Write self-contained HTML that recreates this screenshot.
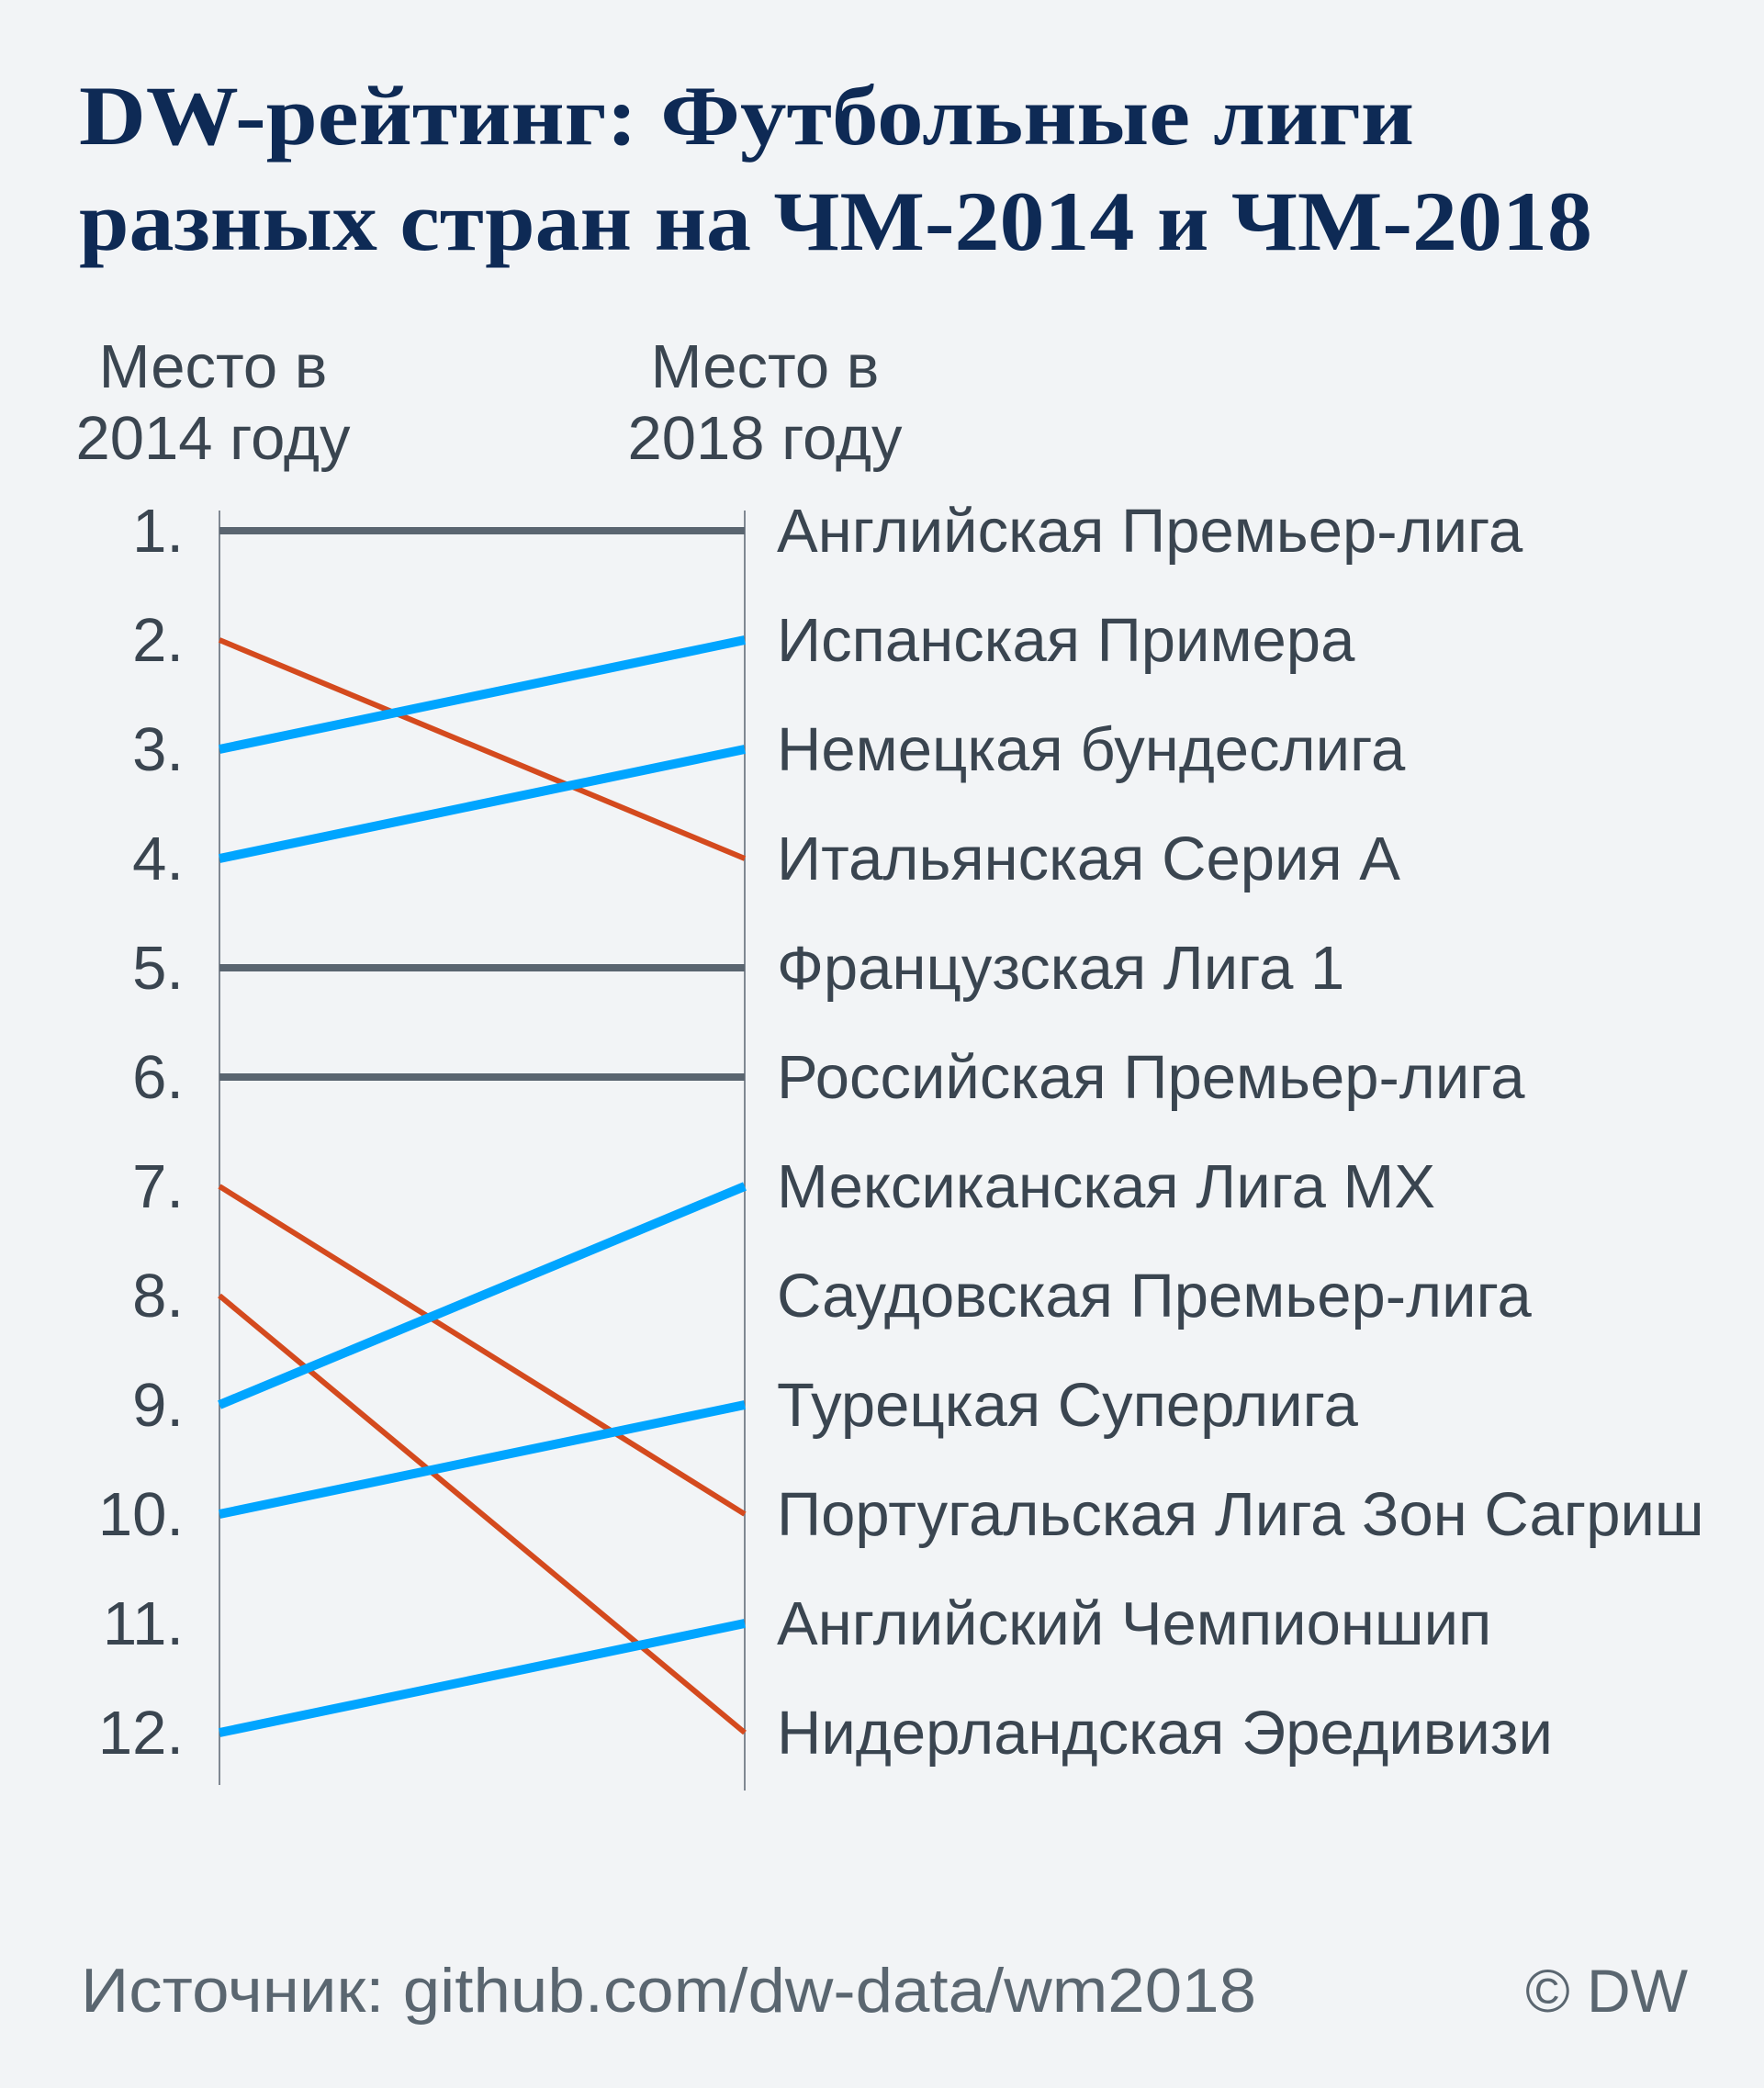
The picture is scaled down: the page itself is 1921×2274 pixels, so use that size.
<!DOCTYPE html>
<html><head><meta charset="utf-8"><style>
html,body{margin:0;padding:0;background:#f2f4f6;}
svg{display:block;}
</style></head><body>
<svg width="1921" height="2274" viewBox="0 0 1921 2274" xmlns="http://www.w3.org/2000/svg">
<rect width="1921" height="2274" fill="#f2f4f6"/>
<g font-family="'Liberation Serif', serif" font-weight="bold" fill="#0e2a55" font-size="92">
<text x="86" y="157" textLength="1454" lengthAdjust="spacingAndGlyphs">DW-рейтинг: Футбольные лиги</text>
<text x="86" y="272" textLength="1648" lengthAdjust="spacingAndGlyphs">разных стран на ЧМ-2014 и ЧМ-2018</text>
</g>
<g font-family="'Liberation Sans', sans-serif" fill="#3a4550" font-size="67" text-anchor="middle">
<text x="232" y="422">Место в</text>
<text x="232" y="500">2014 году</text>
<text x="833" y="422">Место в</text>
<text x="833" y="500">2018 году</text>
</g>
<line x1="239" y1="556" x2="239" y2="1944" stroke="#5a6570" stroke-width="1.5"/>
<line x1="811" y1="556" x2="811" y2="1950" stroke="#5a6570" stroke-width="1.5"/>
<g id="ranks" font-family="'Liberation Sans', sans-serif" fill="#3a4550" font-size="67"></g>
<g id="lines"></g>
<text x="88" y="2191" textLength="1280" lengthAdjust="spacingAndGlyphs" font-family="'Liberation Sans', sans-serif" font-size="68" fill="#5a6670">Источник: github.com/dw-data/wm2018</text>
<text x="1838" y="2191" text-anchor="end" font-family="'Liberation Sans', sans-serif" font-size="66" fill="#5a6670">© DW</text>
</svg>
<script>
const leagues = ["Английская Премьер-лига","Испанская Примера","Немецкая бундеслига","Итальянская Серия А","Французская Лига 1","Российская Премьер-лига","Мексиканская Лига MX","Саудовская Премьер-лига","Турецкая Суперлига","Португальская Лига Зон Сагриш","Английский Чемпионшип","Нидерландская Эредивизи"];
const rankLabels = ["1.","2.","3.","4.","5.","6.","7.","8.","9.","10.","11.","12."];
const from2014 = [1,2,3,4,5,6,7,8,9,10,12];
const to2018 =   [1,4,2,3,5,6,10,12,7,9,11];
const NS="http://www.w3.org/2000/svg";
const y = r => 578 + (r-1)*119;
const xL = 239, xR = 811;
const ranks = document.getElementById('ranks');
rankLabels.forEach((t,i)=>{
  const e=document.createElementNS(NS,'text');
  e.setAttribute('x',200);e.setAttribute('y',y(i+1)+23);e.setAttribute('text-anchor','end');
  e.textContent=t;
  
  
  ranks.appendChild(e);
});
leagues.forEach((t,i)=>{
  const e=document.createElementNS(NS,'text');
  e.setAttribute('x',846);e.setAttribute('y',y(i+1)+23);
  e.textContent=t;
  
  
  ranks.appendChild(e);
});
const lines=document.getElementById('lines');
from2014.forEach((a,i)=>{
  const b=to2018[i];
  let c='#5a6570',w=8;
  if(b<a){c='#00a5ff';w=10;} else if(b>a){c='#d44a1e';w=6;}
  const l=document.createElementNS(NS,'line');
  l.setAttribute('x1',xL);l.setAttribute('y1',y(a));
  l.setAttribute('x2',xR);l.setAttribute('y2',y(b));
  l.setAttribute('stroke',c);l.setAttribute('stroke-width',w);
  
  
  lines.appendChild(l);
});
</script>
</body></html>
